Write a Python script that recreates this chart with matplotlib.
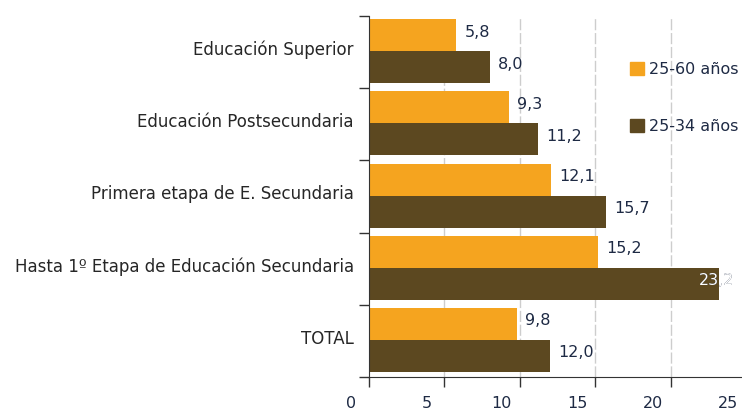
import matplotlib
matplotlib.use("Agg")
import matplotlib.pyplot as plt
import matplotlib.transforms as mtransforms
import numpy as np

categories = ["Educación Superior", "Educación Postsecundaria",
              "Primera etapa de E. Secundaria",
              "Hasta 1º Etapa de Educación Secundaria", "TOTAL"]
series_names = ["25-60 años", "25-34 años"]
vals_2560 = [5.8, 9.3, 12.1, 15.2, 9.8]
vals_2534 = [8.0, 11.2, 15.7, 23.2, 12.0]
xticks = [0, 5, 10, 15, 20, 25]

c_orange = "#F5A41F"
c_brown = "#5C4820"
c_text = "#1E2A44"
c_cat = "#262626"

plt.rcParams['font.family'] = ['DejaVu Sans']

W, H = 742, 416
fig = plt.figure(figsize=(W / 100, H / 100), dpi=100)
ax = fig.add_axes([369 / W, (H - 377) / H, 377 / W, 361 / H])

y = np.arange(len(categories))
h = 0.443
b1 = ax.barh(y - 0.235, vals_2560, height=h, color=c_orange, zorder=3, label=series_names[0])
b2 = ax.barh(y + 0.208, vals_2534, height=h, color=c_brown, zorder=3, label=series_names[1])

ax.set_xlim(0, 25)
ax.set_ylim(len(categories) - 0.5, -0.5)

def fmt(v):
    return f"{v:.1f}".replace(".", ",")

for bars, vals in ((b1, vals_2560), (b2, vals_2534)):
    for rect, v in zip(bars, vals):
        yc = rect.get_y() + rect.get_height() / 2
        if v > 20:
            off = mtransforms.offset_copy(ax.transData, fig=fig, x=-20, y=3, units='dots')
            ax.text(v, yc, fmt(v), transform=off, ha='left', va='center',
                    fontsize=11.5, color=c_text, zorder=5)
            t = ax.text(v, yc, fmt(v), transform=off, ha='left', va='center',
                        fontsize=11.5, color='white', zorder=6)
            t.set_clip_path(rect)
        else:
            off = mtransforms.offset_copy(ax.transData, fig=fig, x=8, y=3, units='dots')
            ax.text(v, yc, fmt(v), transform=off, ha='left', va='center',
                    fontsize=11.5, color=c_text, zorder=5)

# grid
for xv in xticks[1:]:
    ax.axvline(xv, color="#CDCDCD", lw=1, linestyle=(0, (8, 2)), zorder=1)

# axes styling
for s in ("top", "right"):
    ax.spines[s].set_visible(False)
ax.spines["left"].set_color("#333333")
ax.spines["bottom"].set_color("#333333")
ax.spines["left"].set_zorder(4)

ax.set_xticks(xticks)
ax.set_xticklabels([str(t) for t in xticks], fontsize=11.5, color=c_text)
ax.tick_params(axis='x', length=7, width=1, color="#333333", pad=7)
for lab in ax.get_xticklabels():
    lab.set_transform(lab.get_transform() + mtransforms.ScaledTranslation(-18 / 100, 0, fig.dpi_scale_trans))

# y ticks at group boundaries, category labels as minor ticks
ax.set_yticks(np.arange(len(categories) + 1) - 0.5)
ax.set_yticklabels([])
ax.tick_params(axis='y', which='major', length=7, width=1, color="#333333")
ax.set_yticks(y - 0.06, minor=True)
ax.set_yticklabels(categories, minor=True, fontsize=12, color=c_cat)
ax.tick_params(axis='y', which='minor', length=0, pad=11)

handles = [plt.Rectangle((0, 0), 1, 1, color=c_orange), plt.Rectangle((0, 0), 1, 1, color=c_brown)]
leg = fig.legend(handles, series_names, loc='upper left', bbox_to_anchor=(616 / W, 1 - 48 / H),
                 frameon=False, fontsize=11.5, handlelength=0.85, handleheight=0.85,
                 handletextpad=0.3, labelspacing=2.6, labelcolor=c_text)

fig.savefig("out.png", dpi=100)
